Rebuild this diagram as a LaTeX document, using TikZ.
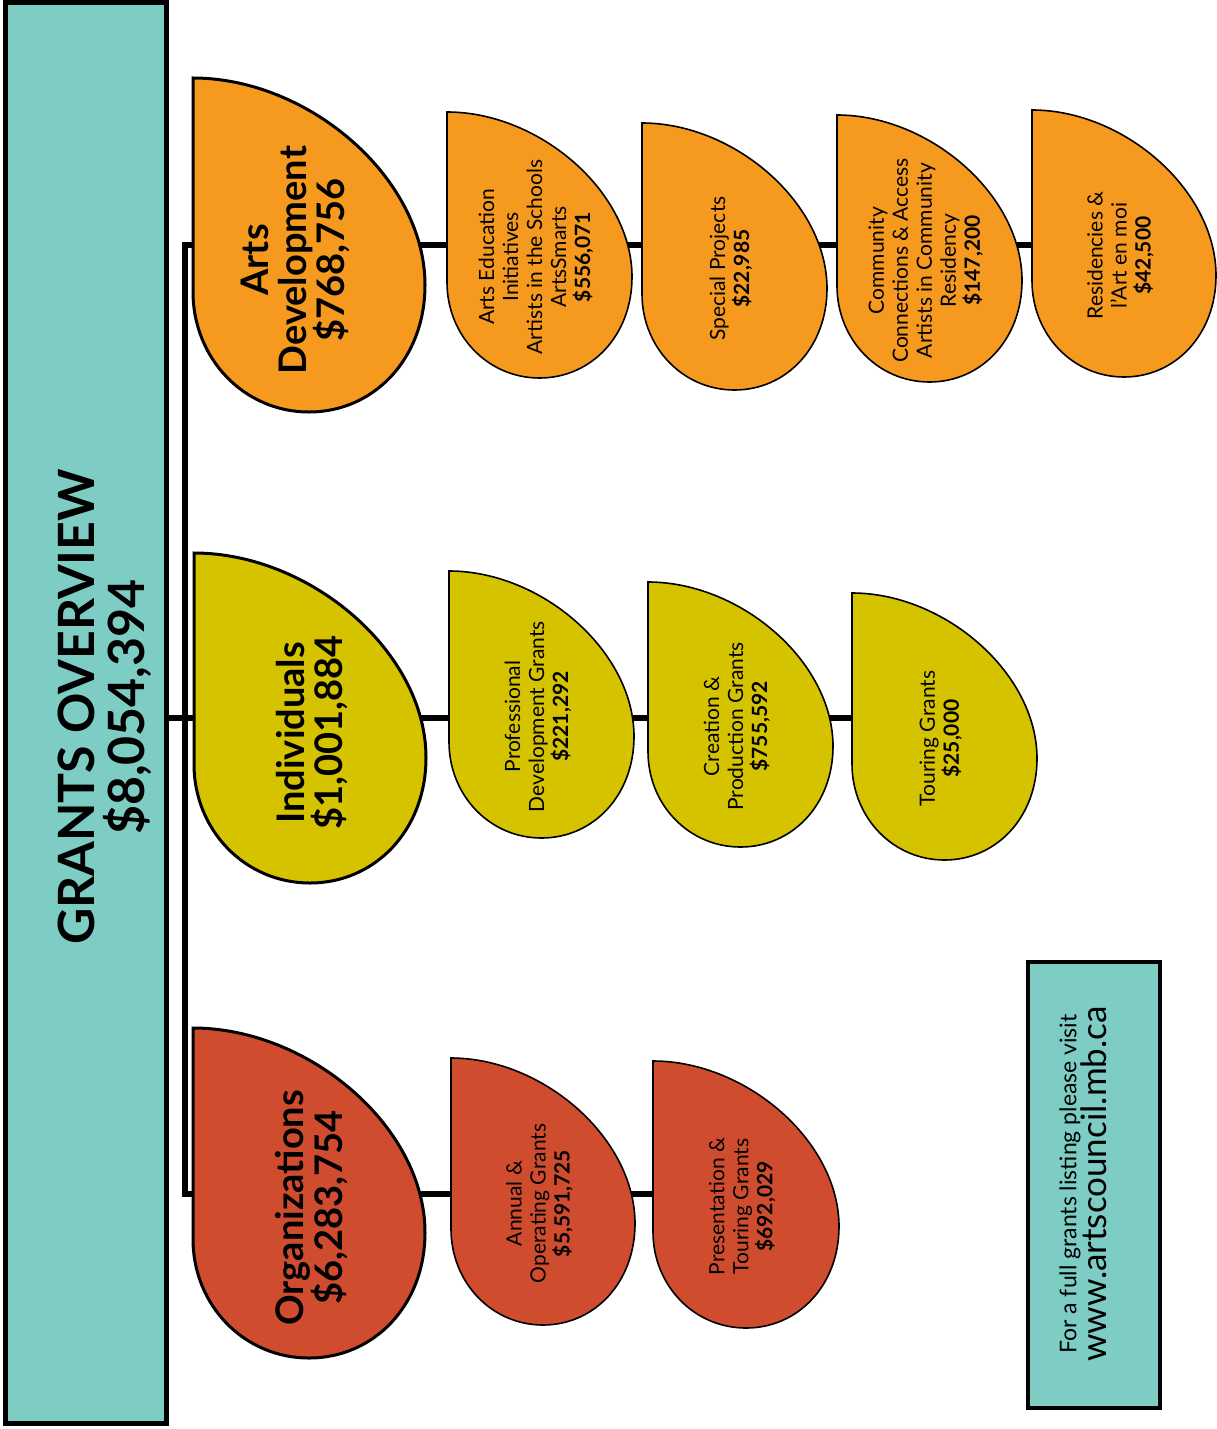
\documentclass[tikz,border=0pt]{standalone}
\usepackage{fontspec}
\setmainfont{Lato}
\usetikzlibrary{backgrounds}

\definecolor{boxteal}{RGB}{125,205,196}
\definecolor{artsorange}{RGB}{245,154,31}
\definecolor{indyellow}{RGB}{214,195,0}
\definecolor{orgred}{RGB}{207,76,46}

% teardrop: [text x fraction] name, top-left corner, width, height, fill, kind, text
\newcommand\drop[8][0.48]{%
  \begin{scope}[shift={(#3)}]
    \path[#7 drop, fill=#6] (0,0) -- (0,{0.64*#5})
      .. controls (0,{0.84*#5}) and ({0.22*#4},#5) .. ({0.5*#4},#5)
      .. controls ({0.78*#4},#5) and (#4,{0.84*#5}) .. (#4,{0.62*#5})
      .. controls (#4,{0.3*#5}) and ({0.5*#4},0) .. (0,0) -- cycle;
    \node[#7 text] (#2) at ({#1*#4},{0.545*#5}) {#8};
  \end{scope}}

\begin{document}
\begin{tikzpicture}[x=1pt, y=-1pt,
    link/.style={line width=5.5pt, black},
    big drop/.style={draw=black, line width=3pt},
    small drop/.style={draw=black, line width=1.6pt},
    big text/.style={rotate=90, align=center, inner sep=0pt,
      font=\fontsize{38}{38}\selectfont\bfseries},
    small text/.style={rotate=90, align=center, inner sep=0pt,
      font=\fontsize{21}{24}\selectfont},
    panel/.style={draw=black, fill=boxteal, inner sep=0pt}]
      \useasboundingbox (0,0) rectangle (1217,1429);

      \node[panel, line width=4.5pt, minimum width=161pt, minimum height=1421pt] (root) at (86,713) {};
      \node[rotate=90, align=center, inner sep=0pt, font=\fontsize{50}{50}\selectfont\bfseries]
        (title) at (105,707) {GRANTS OVERVIEW\\\$8,054,394};

      \drop[0.44]{arts}{193,78}{232}{334}{artsorange}{big}{Arts\\Development\\\$768,756}
      \drop{arts_1}{447,112}{185}{266}{artsorange}{small}{Arts Education\\Initiatives\\Artists in the Schools\\ArtsSmarts\\\textbf{\$556,071}}
      \drop{arts_2}{642,123}{185}{267}{artsorange}{small}{Special Projects\\\textbf{\$22,985}}
      \drop{arts_3}{837,115}{185}{267}{artsorange}{small}{Community\\Connections \& Access\\Artists in Community\\Residency\\\textbf{\$147,200}}
      \drop{arts_4}{1032,110}{184}{267}{artsorange}{small}{Residencies \&\\l’Art en moi\\\textbf{\$42,500}}

      \drop[0.51]{ind}{194,553}{232}{330}{indyellow}{big}{Individuals\\\$1,001,884}
      \drop{ind_1}{449,571}{185}{267}{indyellow}{small}{Professional\\Development Grants\\\textbf{\$221,292}}
      \drop{ind_2}{648,582}{185}{265}{indyellow}{small}{Creation \&\\Production Grants\\\textbf{\$755,592}}
      \drop{ind_3}{852,593}{185}{267}{indyellow}{small}{Touring Grants\\\textbf{\$25,000}}

      \drop[0.51]{org}{193,1028}{232}{330}{orgred}{big}{Organizations\\\$6,283,754}
      \drop{org_1}{451,1058}{184}{267}{orgred}{small}{Annual \&\\Operating Grants\\\textbf{\$5,591,725}}
      \drop{org_2}{653,1061}{186}{267}{orgred}{small}{Presentation \&\\Touring Grants\\\textbf{\$692,029}}

      \node[panel, line width=3.5pt, minimum width=132pt, minimum height=446pt] (note) at (1094,1185) {};
      \node[rotate=90, align=center, inner sep=0pt, font=\fontsize{23}{30}\selectfont]
        (note_text) at (1083,1184) {For a full grants listing please visit\\{\fontsize{35}{30}\selectfont www.artscouncil.mb.ca}};

      \coordinate (hub_a) at (185,245);
      \coordinate (hub_i) at (185,718);
      \coordinate (hub_o) at (185,1194);

      \begin{scope}[on background layer]
        \draw[link] (hub_a -| arts_4) -- (hub_a) -- (hub_o) -- (hub_o -| org_2);
        \draw[link] (hub_i -| root.east) -- (hub_i -| ind_3);
      \end{scope}
    \end{tikzpicture}
\end{document}
